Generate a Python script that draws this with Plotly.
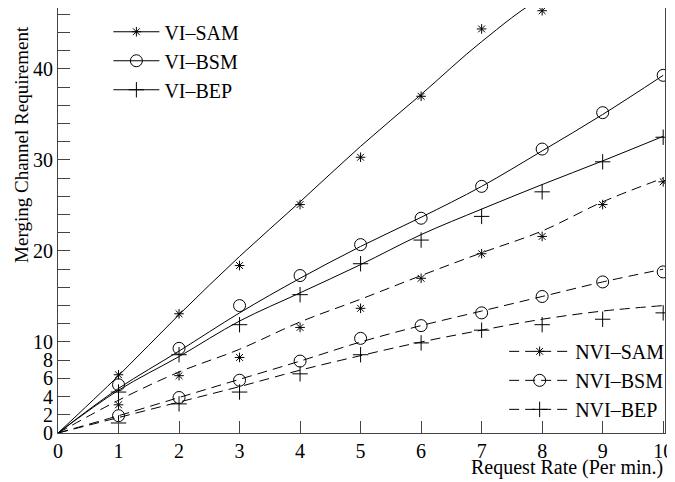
import plotly.graph_objects as go

rate = [1, 2, 3, 4, 5, 6, 7, 8, 9, 10]
curve_x = [0, 1, 2, 3, 4, 5, 6, 7, 8, 9, 10]

# measured points (markers)
vi_sam = [6.4, 13.1, 18.4, 25.1, 30.3, 37.0, 44.4, 46.4, None, None]
vi_bsm = [5.3, 9.3, 14.0, 17.3, 20.7, 23.6, 27.1, 31.2, 35.2, 39.3]
vi_bep = [4.5, 8.6, 11.9, 15.2, 18.6, 21.2, 23.8, 26.5, 29.8, 32.5]
nvi_sam = [3.1, 6.3, 8.3, 11.6, 13.7, 17.0, 19.7, 21.6, 25.1, 27.6]
nvi_bsm = [1.9, 3.9, 5.8, 7.9, 10.4, 11.8, 13.2, 15.0, 16.6, 17.7]
nvi_bep = [1.1, 3.2, 4.5, 6.5, 8.6, 9.9, 11.3, 11.9, 12.5, 13.2]

# fitted curves (lines)
vi_sam_fit = [0, 6.3, 13.0, 19.4, 25.4, 31.5, 37.2, 43.0, 47.8, 50.0, 51.0]
vi_bsm_fit = [0, 4.9, 9.0, 13.2, 17.0, 20.5, 23.7, 27.1, 31.0, 35.0, 39.3]
vi_bep_fit = [0, 4.7, 8.4, 12.3, 15.4, 18.5, 21.8, 24.6, 27.3, 29.9, 32.6]
nvi_sam_fit = [0, 3.6, 6.7, 9.2, 12.2, 14.7, 17.3, 19.8, 22.2, 25.4, 28.0]
nvi_bsm_fit = [0, 1.9, 3.9, 5.9, 7.9, 10.0, 11.8, 13.4, 15.0, 16.6, 18.0]
nvi_bep_fit = [0, 1.7, 3.4, 5.1, 6.9, 8.5, 10.0, 11.3, 12.5, 13.4, 14.0]

y_tickvals = list(range(0, 47, 2))
y_ticklabels = {0: "0", 2: "2", 4: "4", 6: "6", 8: "8", 10: "10", 20: "20", 30: "30", 40: "40"}
y_ticktext = [y_ticklabels.get(v, "") for v in y_tickvals]
x_tickvals = [0, 1, 2, 3, 4, 5, 6, 7, 8, 9, 10]

FONT = "Liberation Serif"
series = [
    ("VI\u2013SAM", vi_sam, vi_sam_fit, "asterisk-open", 8, "solid", "legend"),
    ("VI\u2013BSM", vi_bsm, vi_bsm_fit, "circle-open", 12, "solid", "legend"),
    ("VI\u2013BEP", vi_bep, vi_bep_fit, "cross-thin-open", 11, "solid", "legend"),
    ("NVI\u2013SAM", nvi_sam, nvi_sam_fit, "asterisk-open", 8, "10px,6px", "legend2"),
    ("NVI\u2013BSM", nvi_bsm, nvi_bsm_fit, "circle-open", 12, "10px,6px", "legend2"),
    ("NVI\u2013BEP", nvi_bep, nvi_bep_fit, "cross-thin-open", 11, "10px,6px", "legend2"),
]

fig = go.Figure()
for name, pts, fit, sym, sz, dash, lg in series:
    fig.add_trace(go.Scatter(x=curve_x, y=fit, mode="lines", line=dict(color="black", width=1, dash=dash, shape="spline"),
                             showlegend=False, hoverinfo="skip"))
    fig.add_trace(go.Scatter(x=rate, y=pts, mode="markers",
                             marker=dict(symbol=sym, size=sz, color="black", line=dict(color="black", width=1)),
                             showlegend=False))
    fig.add_trace(go.Scatter(x=[None], y=[None], mode="lines+markers", name=name, legend=lg,
                             line=dict(color="black", width=1, dash=dash),
                             marker=dict(symbol=sym, size=sz, color="black", line=dict(color="black", width=1))))

# page body has an 8px margin: figure is offset by (8, 8) in the window
fig.update_layout(
    width=667, height=474,
    margin=dict(l=50, r=10, t=0, b=49),
    paper_bgcolor="white", plot_bgcolor="white",
    font=dict(family=FONT, size=20, color="black"),
    xaxis=dict(range=[0, 10.03], tickvals=x_tickvals, ticks="inside", ticklen=12, tickcolor="#444",
               showline=True, linecolor="#444", mirror=True, showgrid=False, zeroline=False,
               tickfont=dict(size=20, family=FONT)),
    yaxis=dict(range=[0, 46.7], tickvals=y_tickvals, ticktext=y_ticktext, ticks="inside", ticklen=12, tickcolor="#444",
               showline=True, linecolor="#444", mirror=True, showgrid=False, zeroline=False,
               tickfont=dict(size=20, family=FONT)),
    legend=dict(x=0.083, y=0.99, xanchor="left", yanchor="top", bgcolor="rgba(0,0,0,0)",
                font=dict(size=20, family=FONT), itemwidth=46, tracegroupgap=0),
    legend2=dict(x=0.735, y=0.238, xanchor="left", yanchor="top", bgcolor="rgba(0,0,0,0)",
                 font=dict(size=20, family=FONT), itemwidth=61, tracegroupgap=0),
    annotations=[
        dict(text="Request Rate (Per min.)", xref="paper", yref="paper", x=1.0, y=-0.082,
             xanchor="right", yanchor="middle", showarrow=False, font=dict(size=20, family=FONT)),
        dict(text="Merging Channel Requirement", xref="paper", yref="paper", x=-0.0595, y=0.68,
             xanchor="center", yanchor="middle", textangle=-90, showarrow=False, font=dict(size=19, family=FONT)),
    ],
)
fig.write_html("out.html")
